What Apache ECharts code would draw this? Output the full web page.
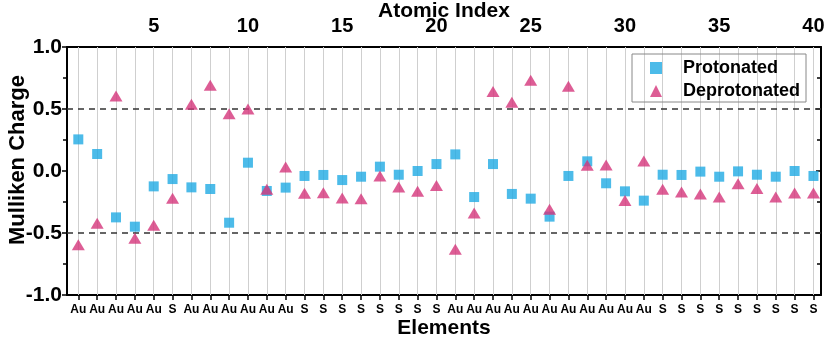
<!DOCTYPE html>
<html>
<head>
<meta charset="utf-8">
<script src="https://cdn.jsdelivr.net/npm/echarts@6/dist/echarts.min.js"></script>
<style>html,body{margin:0;padding:0;background:#fff}#c{width:828px;height:345px}</style>
</head>
<body>
<div id="c"></div>
<script>
const elements = ['Au','Au','Au','Au','Au','S','Au','Au','Au','Au','Au','Au','S','S','S','S','S','S','S','S','Au','Au','Au','Au','Au','Au','Au','Au','Au','Au','Au','S','S','S','S','S','S','S','S','S'];
const atomIndex = Array.from({length: 40}, (_, i) => i + 1);
const topLabels = [5, 10, 15, 20, 25, 30, 35, 40];
const protonated = [0.255,0.137,-0.374,-0.449,-0.124,-0.065,-0.132,-0.145,-0.417,0.067,-0.161,-0.134,-0.040,-0.032,-0.073,-0.046,0.035,-0.030,0.0,0.056,0.134,-0.210,0.056,-0.185,-0.223,-0.368,-0.040,0.078,-0.099,-0.164,-0.239,-0.030,-0.032,-0.005,-0.046,-0.003,-0.030,-0.046,0.0,-0.040];
const deprotonated = [-0.594,-0.422,0.605,-0.543,-0.438,-0.220,0.538,0.691,0.462,0.500,-0.148,0.032,-0.180,-0.175,-0.218,-0.223,-0.040,-0.129,-0.164,-0.116,-0.632,-0.339,0.642,0.554,0.731,-0.309,0.683,0.046,0.048,-0.237,0.081,-0.148,-0.169,-0.185,-0.210,-0.102,-0.142,-0.210,-0.177,-0.177];
const refLines = [0.5, -0.5];

const FONT = 'Liberation Sans, Arial, sans-serif';
const chart = echarts.init(document.getElementById('c'), null, {renderer: 'canvas'});
chart.setOption({
  animation: false,
  backgroundColor: '#fff',
  textStyle: {fontFamily: FONT},
  grid: {left: 67, right: 7, top: 47, bottom: 50, containLabel: false, outerBoundsMode: 'none'},
  legend: {
    orient: 'vertical', left: 632, top: 54,
    itemWidth: 12, itemHeight: 12, itemGap: 5,
    padding: [5, 6, 2, 18],
    borderColor: '#888', borderWidth: 1, borderRadius: 0,
    textStyle: {fontFamily: FONT, fontWeight: 'bold', fontSize: 18, color: '#000', padding: [0, 0, 0, 16]},
    data: ['Protonated', 'Deprotonated']
  },
  xAxis: [{
    type: 'value', position: 'bottom', min: 0.4, max: 40.4,
    name: 'Elements', nameLocation: 'middle', nameGap: 23, nameMoveOverlap: false,
    nameTextStyle: {fontFamily: FONT, fontWeight: 'bold', fontSize: 21, color: '#000'},
    axisLine: {show: true, onZero: false, lineStyle: {color: '#000', width: 2}},
    axisTick: {show: true, inside: false, length: 5, customValues: atomIndex, lineStyle: {color: '#000', width: 1.5}},
    axisLabel: {customValues: atomIndex, formatter: v => elements[Math.round(v) - 1] || '', fontFamily: FONT, fontWeight: 'bold', fontSize: 12, color: '#000', margin: 9},
    splitLine: {show: false}
  }, {
    type: 'value', position: 'top', min: 0.4, max: 40.4,
    name: 'Atomic Index', nameLocation: 'middle', nameGap: 25, nameMoveOverlap: false,
    nameTextStyle: {fontFamily: FONT, fontWeight: 'bold', fontSize: 21, color: '#000'},
    axisLine: {show: true, onZero: false, lineStyle: {color: '#000', width: 2}},
    axisTick: {show: true, inside: true, length: 4, customValues: atomIndex, lineStyle: {color: '#000', width: 1}},
    axisLabel: {customValues: topLabels, fontFamily: FONT, fontWeight: 'bold', fontSize: 20, color: '#000', margin: 11},
    splitLine: {show: false}
  }],
  yAxis: [{
    type: 'value', position: 'left', min: -1, max: 1, interval: 0.5,
    name: 'Mulliken Charge', nameLocation: 'middle', nameGap: 38, nameMoveOverlap: false,
    nameTextStyle: {fontFamily: FONT, fontWeight: 'bold', fontSize: 22, color: '#000', padding: [0, 0, 0, 22]},
    axisLine: {show: true, onZero: false, lineStyle: {color: '#000', width: 2}},
    axisTick: {show: true, inside: false, length: 5, lineStyle: {color: '#000', width: 1.5}},
    minorTick: {show: true, splitNumber: 2, length: 4, lineStyle: {color: '#000', width: 1.5}},
    axisLabel: {formatter: v => v.toFixed(1), fontFamily: FONT, fontWeight: 'bold', fontSize: 21, color: '#000', margin: 5},
    splitLine: {show: false}
  }, {
    type: 'value', position: 'right', min: -1, max: 1, interval: 0.5,
    axisLine: {show: true, onZero: false, lineStyle: {color: '#000', width: 2}},
    axisTick: {show: true, inside: true, length: 5, lineStyle: {color: '#000', width: 1.5}},
    minorTick: {show: true, splitNumber: 2, length: 4, lineStyle: {color: '#000', width: 1.5}},
    axisLabel: {show: false},
    splitLine: {show: false}
  }],
  series: [{
    name: 'grid', type: 'scatter', xAxisIndex: 0, yAxisIndex: 0, data: [], silent: true, z: 1,
    markLine: {
      silent: true, symbol: 'none', label: {show: false}, animation: false, z: 1,
      lineStyle: {color: '#cfcfcf', type: 'solid', width: 1},
      data: atomIndex.map(i => ({xAxis: i}))
    }
  }, {
    name: 'ref', type: 'scatter', xAxisIndex: 0, yAxisIndex: 0, data: [], silent: true, z: 2,
    markLine: {
      silent: true, symbol: 'none', label: {show: false}, animation: false, z: 2,
      lineStyle: {color: '#333', type: [6, 5], width: 1.5},
      data: refLines.map(v => ({yAxis: v}))
    }
  }, {
    name: 'Protonated', type: 'scatter', xAxisIndex: 0, yAxisIndex: 0, z: 3,
    symbol: 'rect', symbolSize: 10,
    itemStyle: {color: '#1FAAE3'},
    data: atomIndex.map((x, i) => [x, protonated[i]])
  }, {
    name: 'Deprotonated', type: 'scatter', xAxisIndex: 0, yAxisIndex: 0, z: 4,
    symbol: 'triangle', symbolSize: [13, 11],
    itemStyle: {color: '#D5357A'},
    data: atomIndex.map((x, i) => [x, deprotonated[i]])
  }]
});
</script>
</body>
</html>
